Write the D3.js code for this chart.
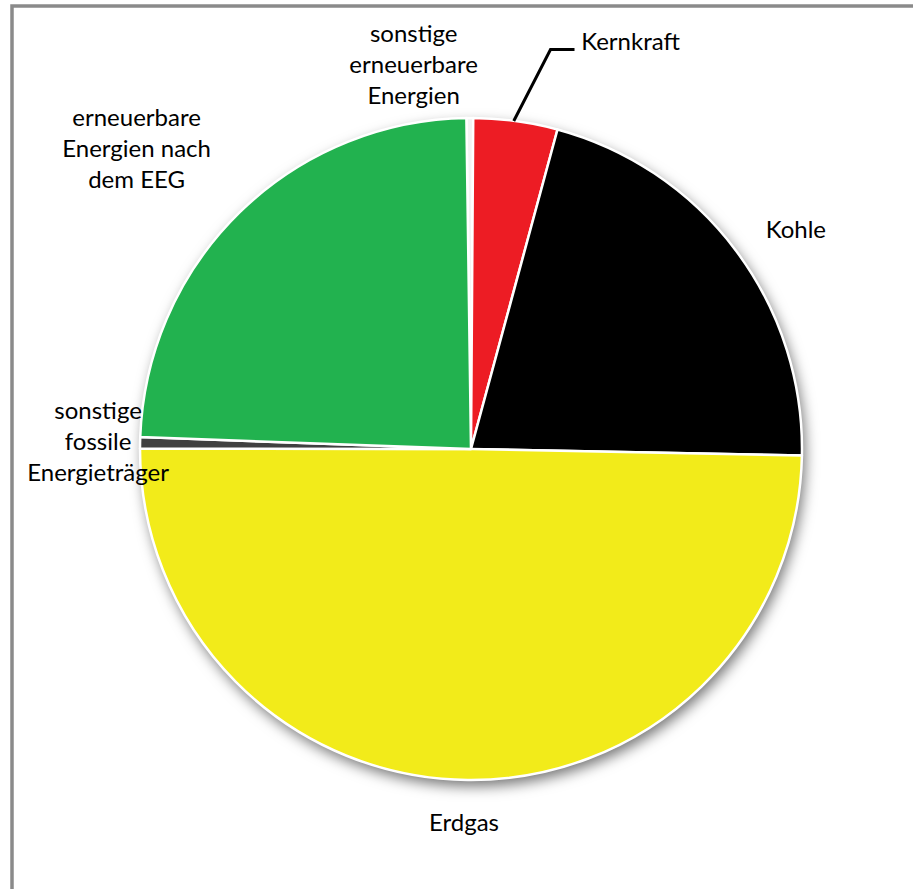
<!DOCTYPE html>
<html>
<head>
<meta charset="utf-8">
<script src="https://cdn.jsdelivr.net/npm/d3@7/dist/d3.min.js"></script>
<style>
  body { margin: 0; background: #fff; }
  svg { display: block; }
  .label { font-family: Lato, "Open Sans", sans-serif; font-size: 24px; fill: #000; }
</style>
</head>
<body>
<div id="vis"></div>
<script>
// Energieträger pie — shares in percent, clockwise from 12 o'clock
var categories = ['sonstige erneuerbare Energien', 'Kernkraft', 'Kohle', 'Erdgas',
                  'sonstige fossile Energieträger', 'erneuerbare Energien nach dem EEG'];
var values     = [0.33, 4.1, 21.1, 49.7, 0.55, 24.2];
var colors     = ['#f3f3f3', '#ed1c24', '#000000', '#f2eb1a', '#404040', '#22b24f'];
// label text, split into lines as in the original
var labelLines = [
  ['sonstige', 'erneuerbare', 'Energien'],
  ['Kernkraft'],
  ['Kohle'],
  ['Erdgas'],
  ['sonstige', 'fossile', 'Energieträger'],
  ['erneuerbare', 'Energien nach', 'dem EEG']
];

var W = 913, H = 889;
var cx = 471, cy = 449, radius = 331;
var labelRadius = radius + 50;
var lineHeight = 31;
var startDeg = -0.8;

// hand nudges of the label blocks (Excel lets you drag them)
var labelNudge = {
  'sonstige erneuerbare Energien': [-56, -5],
  'Kernkraft': [108, -31],
  'Kohle': [20, 8],
  'Erdgas': [-3, -8],
  'sonstige fossile Energieträger': [8, -1],
  'erneuerbare Energien nach dem EEG': [-68, -29]
};

var svg = d3.select('#vis').append('svg')
  .attr('width', W).attr('height', H);

svg.append('rect').attr('width', W).attr('height', H).attr('fill', '#fff');

// chart frame (runs off the right/bottom edge)
svg.append('rect')
  .attr('x', 12).attr('y', 6)
  .attr('width', W + 20).attr('height', H + 20)
  .attr('fill', 'none')
  .attr('stroke', '#8a8a8a')
  .attr('stroke-width', 3.5);

var defs = svg.append('defs');
var f = defs.append('filter').attr('id', 'shadow')
  .attr('x', '-20%').attr('y', '-20%').attr('width', '140%').attr('height', '140%');
f.append('feDropShadow')
  .attr('dx', 3).attr('dy', 6)
  .attr('stdDeviation', 7)
  .attr('flood-color', '#000')
  .attr('flood-opacity', 0.55);

var g = svg.append('g').attr('transform', `translate(${cx},${cy})`);

var data = categories.map((c, i) => ({ name: c, value: values[i], color: colors[i], lines: labelLines[i] }));

var pie = d3.pie().sort(null).value(d => d.value)
  .startAngle(startDeg * Math.PI / 180)
  .endAngle((startDeg + 360) * Math.PI / 180);
var arcs = pie(data);

var arc = d3.arc().innerRadius(0).outerRadius(radius);
var labelArc = d3.arc().innerRadius(labelRadius).outerRadius(labelRadius);
var edgeArc = d3.arc().innerRadius(radius).outerRadius(radius);

// shadow disc behind the slices
g.append('circle').attr('r', radius).attr('fill', '#fff').attr('filter', 'url(#shadow)');

g.selectAll('path.slice').data(arcs).join('path')
  .attr('class', 'slice')
  .attr('d', arc)
  .attr('fill', d => d.data.color)
  .attr('stroke', '#fff')
  .attr('stroke-width', 2.5)
  .attr('stroke-linejoin', 'round');

// labels
arcs.forEach(a => {
  var p = labelArc.centroid(a);
  var n = labelNudge[a.data.name] || [0, 0];
  var x = p[0] + n[0], y = p[1] + n[1];
  var t = g.append('text').attr('class', 'label')
    .attr('text-anchor', 'middle');
  a.data.lines.forEach((ln, i) => {
    t.append('tspan')
      .attr('x', x)
      .attr('y', y + (i - (a.data.lines.length - 1) / 2) * lineHeight)
      .attr('dominant-baseline', 'central')
      .text(ln);
  });
  a.data.labelPos = [x, y];
});

// leader line for Kernkraft
var kern = arcs.find(a => a.data.name === 'Kernkraft');
var e = edgeArc.centroid(kern);
var lp = kern.data.labelPos;
var kx = lp[0] - 56, ky = lp[1] + 9;
g.append('polyline')
  .attr('points', [[e[0] - 2, e[1]], [kx - 24, ky], [kx, ky]].map(q => q.join(',')).join(' '))
  .attr('fill', 'none')
  .attr('stroke', '#000')
  .attr('stroke-width', 3);
</script>
</body>
</html>
